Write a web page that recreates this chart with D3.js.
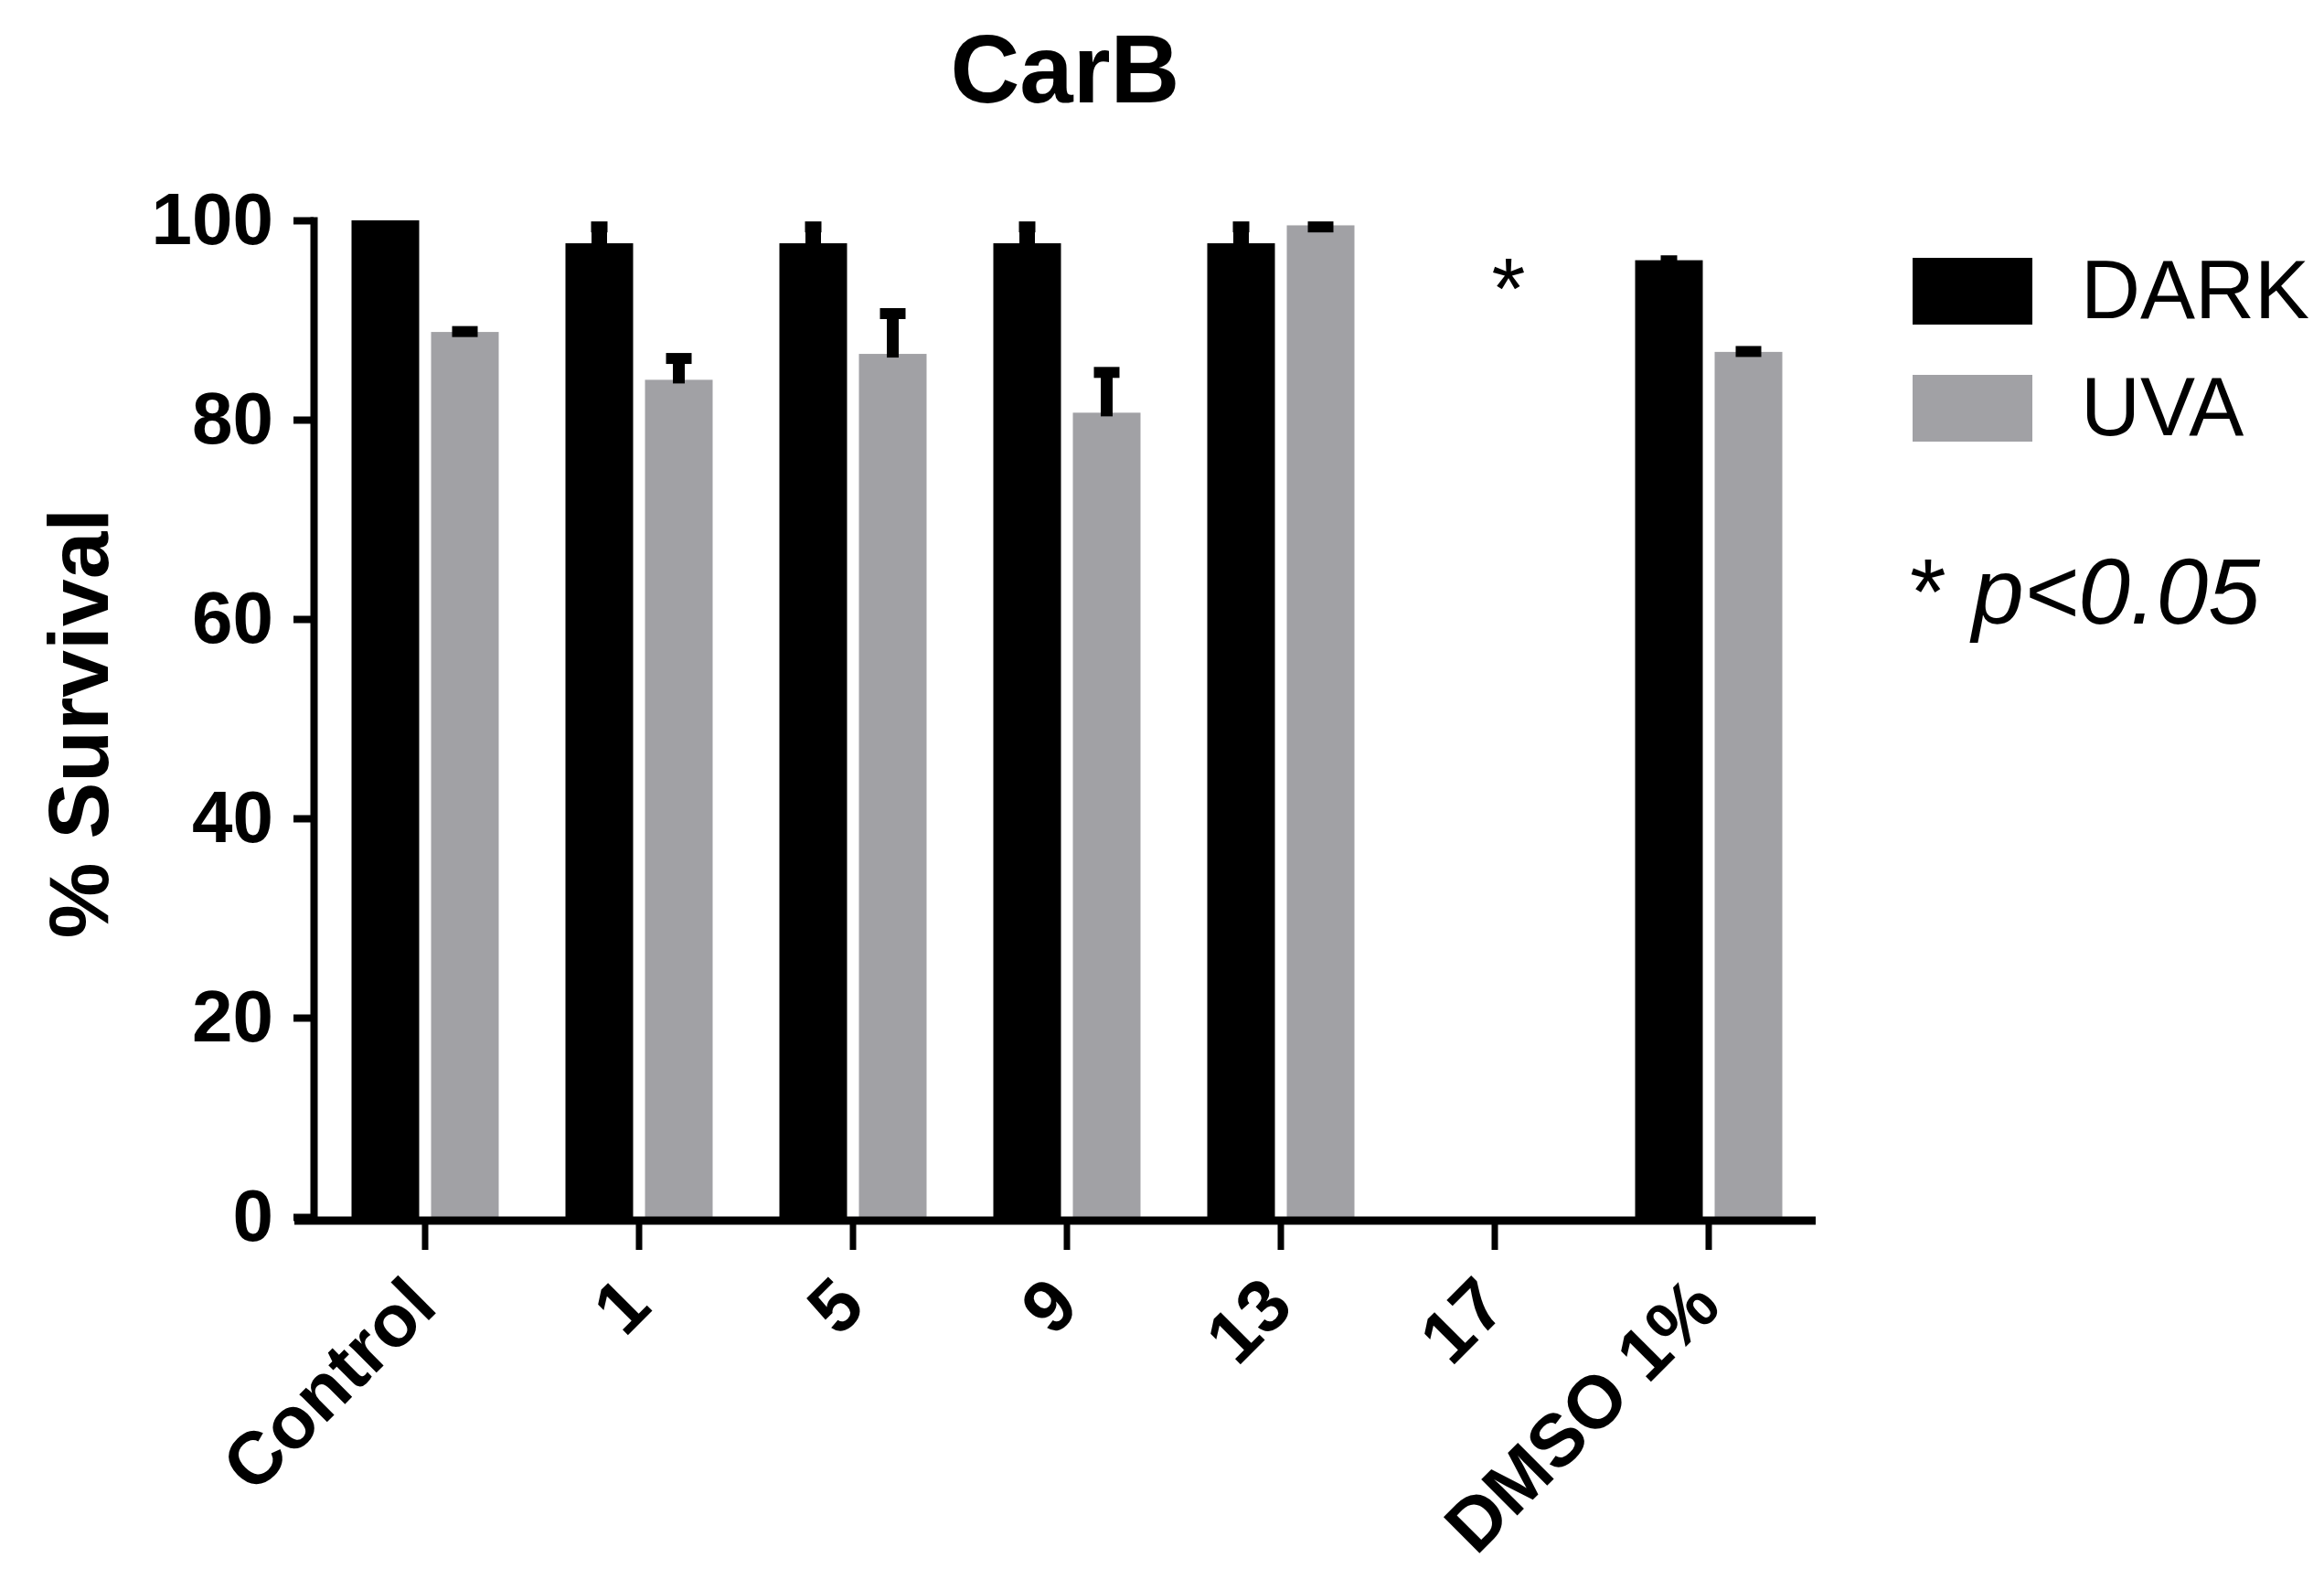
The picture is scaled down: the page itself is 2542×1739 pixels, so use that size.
<!DOCTYPE html>
<html><head><meta charset="utf-8">
<script src="https://cdn.jsdelivr.net/npm/d3@7"></script>
<style>
body{margin:0;background:#fff;}
svg text{font-family:"Liberation Sans",Arial,Helvetica,sans-serif;}
</style>
</head><body>
<svg id="chart" width="2542" height="1739"></svg>
<script>
// ---- data ----
const categories = ["Control", "1", "5", "9", "13", "17", "DMSO 1%"];
const series = ["DARK", "UVA"];
const seriesColors = ["#000000", "#a1a1a5"];
const darkValues = [100, 97.7, 97.7, 97.7, 97.7, 0, 96.0];
const darkErrors = [0, 2.1, 2.1, 2.1, 2.1, 0, 0.4];
const uvaValues  = [88.8, 84.0, 86.6, 80.7, 99.5, 0, 86.8];
const uvaErrors  = [0.5, 2.6, 4.5, 4.5, 0.3, 0, 0.5];
const yTicks = [0, 20, 40, 60, 80, 100];
const annotations = [{category: "17", label: "*", value: 95}];
const titleText = "CarB";
const yLabel = "% Survival";
const noteText = ["* ", "p<0.05"];

const valuesBySeries = [darkValues, uvaValues];
const errorsBySeries = [darkErrors, uvaErrors];

const svg = d3.select("#chart");
svg.append("rect").attr("width", 2542).attr("height", 1739).attr("fill", "#fff");

const x = d3.scaleBand().domain(categories).range([348, 1986]);
const xs = d3.scaleBand().domain(series).range([-80.5, 80.5]).paddingInner(0.1494);
const y = d3.scaleLinear().domain([0, 100]).range([1331, 241]);
const color = d3.scaleOrdinal().domain(series).range(seriesColors);
const cx = c => x(c) + x.bandwidth() / 2;

// bars
const rows = [];
categories.forEach((c, i) => series.forEach((s, j) => {
  rows.push({c, s, v: valuesBySeries[j][i], e: errorsBySeries[j][i]});
}));
const drawn = rows.filter(d => d.v > 0);

svg.append("g").selectAll("rect").data(drawn).join("rect")
  .attr("x", d => cx(d.c) + xs(d.s))
  .attr("width", xs.bandwidth())
  .attr("y", d => y(d.v))
  .attr("height", d => y(0) - y(d.v))
  .attr("fill", d => color(d.s));

// error bars
const eb = svg.append("g").selectAll("g").data(drawn.filter(d => d.e > 0)).join("g");
eb.append("line")
  .attr("x1", d => cx(d.c) + xs(d.s) + xs.bandwidth() / 2)
  .attr("x2", d => cx(d.c) + xs(d.s) + xs.bandwidth() / 2)
  .attr("y1", d => y(d.v) + 4)
  .attr("y2", d => y(d.v + d.e))
  .attr("stroke", "#000")
  .attr("stroke-width", d => d.s === "DARK" ? 17 : 13);
eb.append("line")
  .attr("x1", d => cx(d.c) + xs(d.s) + xs.bandwidth() / 2 - (d.s === "DARK" ? 9 : 14))
  .attr("x2", d => cx(d.c) + xs(d.s) + xs.bandwidth() / 2 + (d.s === "DARK" ? 9 : 14))
  .attr("y1", d => y(d.v + d.e) + 5)
  .attr("y2", d => y(d.v + d.e) + 5)
  .attr("stroke", "#000")
  .attr("stroke-width", 12);

// axes
const xAxis = svg.append("g").attr("transform", "translate(0,1335)")
  .call(d3.axisBottom(x).tickSize(32).tickSizeOuter(0));
xAxis.attr("font-size", null).attr("font-family", null);
xAxis.select(".domain").remove();
xAxis.append("line").attr("x1", 322).attr("x2", 1986).attr("y1", 0).attr("y2", 0)
  .attr("stroke", "#000").attr("stroke-width", 9);
xAxis.selectAll(".tick line").attr("stroke", "#000").attr("stroke-width", 7);
xAxis.selectAll(".tick text")
  .attr("x", 0).attr("y", 0).attr("dy", 0)
  .attr("transform", "translate(16,97) rotate(-45)")
  .style("text-anchor", "end")
  .style("font-size", "81px").style("font-weight", "bold").attr("fill", "#000");

const yAxis = svg.append("g").attr("transform", "translate(343,0)")
  .call(d3.axisLeft(y).tickValues(yTicks).tickSize(22).tickPadding(22).tickSizeOuter(0));
yAxis.attr("font-size", null).attr("font-family", null);
yAxis.select(".domain").attr("stroke", "#000").attr("stroke-width", 8).attr("stroke-linecap", "square");
yAxis.selectAll(".tick line").attr("stroke", "#000").attr("stroke-width", 8);
yAxis.selectAll(".tick text")
  .style("font-size", "80px").style("font-weight", "bold").attr("fill", "#000");

// title
svg.append("text").attr("x", 1165).attr("y", 112).attr("text-anchor", "middle")
  .style("font-size", "105px").style("font-weight", "bold").text(titleText);

// y label
svg.append("text").attr("transform", "translate(118,791) rotate(-90)")
  .attr("text-anchor", "middle")
  .style("font-size", "93px").style("font-weight", "bold").text(yLabel);

// annotation
svg.append("g").selectAll("text").data(annotations).join("text")
  .attr("x", d => cx(d.category) + 15)
  .attr("y", d => y(d.value) + 52)
  .attr("text-anchor", "middle")
  .style("font-size", "95px").text(d => d.label);

// legend
const lg = svg.append("g").selectAll("g").data(series).join("g")
  .attr("transform", (d, i) => `translate(2092,${282 + i * 128})`);
lg.append("rect").attr("width", 131).attr("height", 73).attr("fill", d => color(d));
lg.append("text").attr("x", 184).attr("y", 66)
  .style("font-size", "90px").text(d => d);

const note = svg.append("text").attr("x", 2089).attr("y", 682).style("font-size", "102px");
note.append("tspan").text(noteText[0]);
note.append("tspan").style("font-style", "italic").text(noteText[1]);
</script>
</body></html>
